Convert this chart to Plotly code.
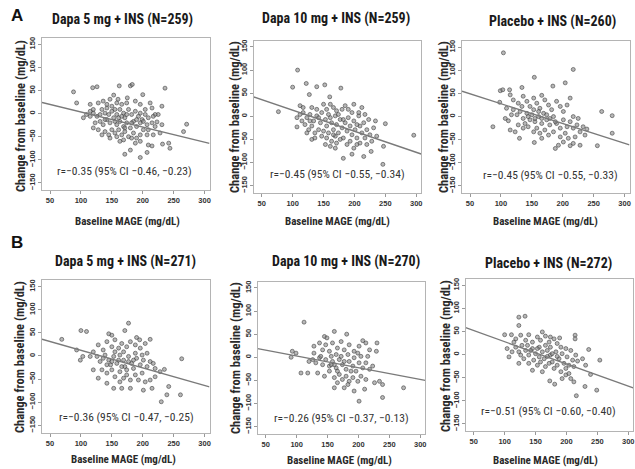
import plotly.graph_objects as go

W, H = 635, 469

panel_titles = ["Dapa 5 mg + INS (N=259)", "Dapa 10 mg + INS (N=259)", "Placebo + INS (N=260)",
                "Dapa 5 mg + INS (N=271)", "Dapa 10 mg + INS (N=270)", "Placebo + INS (N=272)"]
r_texts = ["r=\u22120.35 (95% CI \u22120.46, \u22120.23)", "r=\u22120.45 (95% CI \u22120.55, \u22120.34)",
           "r=\u22120.45 (95% CI \u22120.55, \u22120.33)", "r=\u22120.36 (95% CI \u22120.47, \u22120.25)",
           "r=\u22120.26 (95% CI \u22120.37, \u22120.13)", "r=\u22120.51 (95% CI \u22120.60, \u22120.40)"]
x_ticks = [50, 100, 150, 200, 250, 300]
y_ticks = [-150, -100, -50, 0, 50, 100, 150]
fit_intercept = [36.0, 58.6, 70.6, 50.2, 28.0, 76.0]
fit_slope = [-0.326, -0.455, -0.428, -0.38, -0.253, -0.481]

a1_points = [(88,47),(93,23),(119,56),(126,58),(162,60),(180,60),(183,63),(236,55),(175,34),(200,41),(153,40),(136,27),(128,23),(115,20),(147,31),(160,31),(166,20),(188,27),(196,20),(212,23),(231,16),(225,-2),(220,-2),(109,-2),(115,-6),(120,1),(126,-6),(134,9),(139,1),(142,12),(150,16),(155,9),(158,-2),(163,9),(169,1),(171,-9),(177,9),(182,-2),(188,5),(193,-6),(199,-13),(204,-2),(209,-9),(215,-20),(223,-18),(231,-24),(271,-23),(266,-39),(131,-17),(136,-24),(142,-13),(147,-20),(153,-9),(158,-24),(163,-17),(169,-28),(174,-20),(180,-31),(185,-17),(190,-28),(196,-20),(201,-35),(207,-24),(128,-35),(139,-39),(145,-46),(150,-35),(155,-42),(161,-35),(166,-46),(171,-39),(177,-50),(185,-42),(190,-53),(196,-46),(207,-46),(217,-46),(228,-42),(163,-60),(169,-57),(188,-64),(196,-60),(209,-68),(215,-70),(232,-66),(242,-64),(244,-75),(171,-88),(180,-79),(196,-95),(207,-84),(115,5),(120,9),(104,-9),(123,-20),(131,-2),(145,-2),(150,5),(161,-9),(166,-6),(174,-2),(190,-13),(196,1),(201,-17),(139,-13),(155,-17),(182,-20),(171,-31),(158,-50),(147,-53),(220,-28),(209,-35),(182,-53),(134,-46),(120,-31),(215,12),(174,23),(158,23),(142,20),(217,-6),(204,9)]

a2_points = [(108,100),(77,10),(100,63),(122,71),(139,64),(152,68),(178,61),(127,47),(160,42),(112,23),(117,19),(131,19),(161,26),(185,23),(199,26),(212,19),(234,-10),(250,-16),(296,-41),(247,-65),(246,-104),(182,-91),(196,-82),(169,-69),(215,-87),(227,-76),(131,-50),(107,-23),(107,-3),(112,4),(117,8),(123,-3),(128,4),(134,-10),(139,1),(145,-14),(147,8),(153,-7),(155,-21),(161,-3),(163,-14),(166,-29),(169,1),(171,-18),(174,-36),(177,-7),(180,-25),(182,-47),(185,-14),(188,-32),(190,-3),(193,-21),(196,-40),(199,-10),(201,-29),(204,-47),(207,1),(209,-21),(212,-36),(215,-14),(217,-47),(220,-29),(223,-7),(225,-40),(228,-54),(231,-25),(236,-43),(120,-18),(126,-29),(131,-21),(136,-36),(142,-29),(147,-43),(150,-32),(155,-47),(158,-36),(163,-54),(169,-43),(171,-58),(177,-50),(188,-61),(193,-54),(199,-69),(204,-61),(209,-58),(139,15),(150,26),(155,15),(166,19),(171,12),(180,15),(190,15),(196,8),(207,8),(217,4),(174,4),(158,4),(142,-3),(128,-10),(115,-10),(123,-36),(136,-47),(166,-40),(182,-7),(204,-18),(220,-61),(161,-65),(153,-61)]

a3_points = [(104,138),(217,102),(154,85),(204,73),(184,66),(99,56),(103,58),(114,58),(134,63),(87,-22),(98,31),(130,-47),(154,-56),(263,11),(280,2),(280,-36),(256,-63),(236,-40),(239,-27),(228,-62),(212,-63),(217,-58),(188,-69),(193,-62),(107,-4),(112,-9),(115,-29),(123,-33),(212,40),(166,46),(120,36),(128,29),(136,44),(142,33),(147,22),(153,40),(158,29),(163,18),(171,36),(177,25),(182,15),(190,33),(196,22),(201,11),(207,25),(120,15),(126,4),(131,11),(136,-4),(142,7),(147,-7),(150,4),(155,-11),(161,0),(166,-15),(169,7),(174,-7),(179,-18),(185,0),(190,-15),(196,-25),(201,-7),(207,-22),(212,-11),(217,-25),(223,-18),(228,-33),(128,-18),(136,-25),(144,-22),(153,-33),(158,-25),(163,-36),(171,-29),(177,-40),(185,-33),(196,-44),(204,-36),(209,-47),(220,-44),(201,-55),(166,-47),(134,22),(153,15),(161,11),(139,-15),(174,4),(188,-11),(166,-4),(155,-4),(179,-4),(144,0),(117,4),(109,18),(115,47),(217,0),(225,-4),(233,-22)]

b1_points = [(69,36),(100,55),(109,53),(177,71),(171,55),(145,48),(150,45),(190,40),(195,35),(212,36),(263,-6),(93,13),(99,-9),(103,-1),(120,-30),(128,-48),(153,-70),(166,-70),(180,-70),(201,-74),(215,-70),(239,-84),(230,-99),(242,-66),(261,-84),(220,-27),(228,-34),(235,-29),(212,-52),(220,-45),(128,24),(136,13),(142,31),(150,20),(155,35),(161,17),(166,27),(174,20),(180,31),(188,24),(196,17),(204,27),(126,-1),(131,-12),(139,2),(145,-9),(148,-19),(153,-1),(158,-16),(163,2),(169,-9),(171,-23),(177,-1),(182,-16),(185,-27),(190,-5),(196,-19),(201,-9),(207,-23),(212,-12),(134,-30),(142,-37),(150,-30),(155,-45),(163,-34),(169,-48),(174,-41),(180,-52),(188,-41),(193,-52),(199,-37),(204,-56),(142,-59),(163,-56),(136,-5),(155,9),(169,9),(161,-9),(177,-12),(188,6),(199,2),(207,6),(120,9),(115,-1),(142,-19),(174,-30),(185,-9),(166,-23),(150,-12),(217,-16)]

b2_points = [(112,76),(161,56),(181,50),(145,45),(149,42),(207,36),(230,31),(229,13),(93,13),(99,9),(91,0),(107,-34),(118,-34),(201,-95),(239,-87),(239,-59),(273,-66),(226,-55),(234,-52),(210,-69),(193,-73),(161,-66),(177,-66),(128,24),(137,31),(142,16),(147,27),(153,13),(158,31),(166,20),(172,34),(177,16),(185,27),(193,13),(201,24),(212,31),(218,16),(126,-5),(131,-12),(137,-1),(142,-16),(147,-5),(153,-19),(158,-9),(164,-23),(169,-5),(174,-16),(180,-26),(185,-9),(191,-19),(196,-30),(201,-12),(207,-23),(212,-12),(218,-26),(223,-19),(134,-34),(145,-41),(153,-30),(161,-44),(169,-37),(174,-48),(180,-41),(185,-52),(191,-44),(199,-52),(204,-41),(212,-48),(166,-55),(183,-59),(139,2),(156,2),(164,6),(172,2),(183,6),(193,-1),(204,2),(161,-16),(177,-9),(188,-30),(166,-30),(156,-16),(128,9),(120,-9),(199,9),(215,2)]

b3_points = [(123,81),(133,83),(123,63),(100,43),(111,43),(104,13),(107,-5),(123,-19),(161,49),(174,38),(189,36),(214,42),(214,34),(236,11),(254,-12),(239,-43),(230,-69),(249,-77),(216,-89),(212,-59),(207,-52),(173,-57),(181,-64),(193,-52),(199,-44),(218,-14),(226,-9),(231,-23),(118,34),(126,42),(134,31),(139,43),(145,27),(153,38),(158,31),(166,40),(172,27),(180,34),(185,24),(118,16),(123,6),(128,20),(134,9),(139,-1),(145,13),(150,2),(156,16),(161,6),(164,-9),(169,9),(174,-1),(177,-16),(183,6),(188,-9),(193,2),(196,-19),(201,-5),(204,-23),(210,-12),(215,-1),(131,-9),(139,-19),(147,-12),(153,-23),(158,-16),(166,-26),(172,-19),(180,-30),(185,-23),(191,-37),(199,-30),(204,-41),(161,-37),(145,-34),(137,20),(153,13),(166,20),(174,16),(191,16),(199,13),(126,-1),(169,-4),(185,-4),(156,-5),(142,9),(177,2),(115,27),(112,6),(207,9),(212,-26)]

all_points = [a1_points, a2_points, a3_points, b1_points, b2_points, b3_points]

# ---- layout (pixel boxes: left, right, top, bottom) ----
boxes = [(42, 209.5, 37.8, 190.3), (253.7, 421.2, 40.5, 193), (462, 629.5, 40.8, 193.3),
         (42, 209.5, 280.2, 432.7), (257.7, 425.2, 281.5, 434), (465.7, 633.2, 278.8, 431.3)]
XR = [37, 308]
YR = [-166, 164]
title_pos = [(122, 19), (336, 18.5), (552, 21.5), (125, 261.5), (346, 261), (548, 263)]
xtitle_pos = [(127, 222), (337, 221), (545, 222), (123, 459), (339, 460), (545, 460)]
ytitle_pos = [(20, 116), (235, 117), (444, 117), (19, 357), (235, 358), (445, 356)]
r_pos = [(170, -125), (172.6, -124), (180.8, -125.8), (174, -131), (173, -131), (171.4, -122)]

NARROW = "Liberation Sans Narrow, Roboto Condensed, Arial Narrow, sans-serif"
fig = go.Figure()

for i, pts in enumerate(all_points):
    n = i + 1
    xa = "x" if n == 1 else f"x{n}"
    ya = "y" if n == 1 else f"y{n}"
    xs = [p[0] for p in pts]
    ys = [p[1] for p in pts]
    fig.add_trace(go.Scatter(x=xs, y=ys, mode="markers", xaxis=xa, yaxis=ya, showlegend=False,
                             marker=dict(size=4, color="rgba(135,135,135,0.6)",
                                         line=dict(width=0.7, color="rgba(55,55,55,0.8)"))))
    lx = XR
    ly = [fit_intercept[i] + fit_slope[i] * v for v in lx]
    fig.add_trace(go.Scatter(x=lx, y=ly, mode="lines", xaxis=xa, yaxis=ya, showlegend=False,
                             line=dict(color="#7a7a7a", width=1.4)))
    l, r, t, b = boxes[i]
    ax_common = dict(showline=True, mirror=True, linecolor="#b4b4b4", linewidth=1.2,
                     showgrid=False, zeroline=False, ticks="outside", ticklen=3, tickcolor="#999",
                     tickfont=dict(family="Liberation Sans, Arial, sans-serif", size=7.5, color="#333", weight="bold"))
    fig.update_layout(**{
        ("xaxis" if n == 1 else f"xaxis{n}"): dict(domain=[l / W, r / W], range=XR, anchor=ya,
                                                   tickvals=x_ticks, **ax_common),
        ("yaxis" if n == 1 else f"yaxis{n}"): dict(domain=[1 - b / H, 1 - t / H], range=YR, anchor=xa,
                                                   tickvals=y_ticks, tickangle=-90, **ax_common),
    })
    fig.add_annotation(x=title_pos[i][0] / W, y=1 - title_pos[i][1] / H, xref="paper", yref="paper",
                       text=panel_titles[i], showarrow=False, xanchor="center", yanchor="middle",
                       font=dict(family=NARROW, size=14, color="#1a1a1a", weight="bold"))
    fig.add_annotation(x=xtitle_pos[i][0] / W, y=1 - xtitle_pos[i][1] / H, xref="paper", yref="paper",
                       text="Baseline MAGE (mg/dL)", showarrow=False, xanchor="center", yanchor="middle",
                       font=dict(family=NARROW, size=11, color="#2a2a2a", weight="bold"))
    fig.add_annotation(x=ytitle_pos[i][0] / W, y=1 - ytitle_pos[i][1] / H, xref="paper", yref="paper",
                       text="Change from baseline (mg/dL)", showarrow=False, textangle=-90,
                       xanchor="center", yanchor="middle",
                       font=dict(family=NARROW, size=12.5, color="#2a2a2a", weight="bold"))
    fig.add_annotation(x=r_pos[i][0], y=r_pos[i][1], xref=xa, yref=ya, text=r_texts[i],
                       showarrow=False, xanchor="center", yanchor="middle",
                       font=dict(family=NARROW, size=11.5, color="#333"))

for lab, (px, py) in [("A", (17, 15)), ("B", (17, 243))]:
    fig.add_annotation(x=px / W, y=1 - py / H, xref="paper", yref="paper", text=lab, showarrow=False,
                       xanchor="center", yanchor="middle",
                       font=dict(family="Liberation Sans, Arial, sans-serif", size=17, color="#111", weight="bold"))

fig.update_layout(width=W, height=H, margin=dict(l=0, r=0, t=0, b=0),
                  paper_bgcolor="white", plot_bgcolor="white")
fig.write_html("out.html")
